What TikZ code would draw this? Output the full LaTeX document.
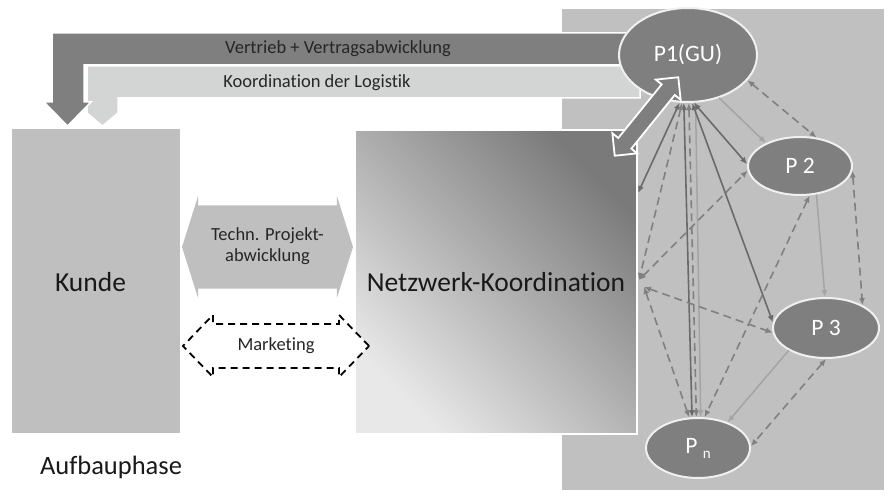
\documentclass[tikz,border=0pt]{standalone}
\usepackage{fontspec}
\setmainfont{Carlito}[Ligatures=NoCommon]
\usetikzlibrary{shapes.geometric,shapes.arrows,arrows.meta}
\definecolor{bandDark}{HTML}{7F7F7F}
\definecolor{bandLight}{HTML}{D3D5D5}
\definecolor{panelGrey}{HTML}{C0C0C0}
\definecolor{boxGrey}{HTML}{BFBFBF}
\definecolor{partnerGrey}{HTML}{7F7F7F}
\definecolor{nkDark}{HTML}{7A7A7A}
\definecolor{nkLight}{HTML}{E8E8E8}
\definecolor{lnDark}{HTML}{6A6A6A}
\definecolor{lnLight}{HTML}{A4A4A4}
\definecolor{lnDash}{HTML}{808080}
\definecolor{textGrey}{HTML}{262626}
\tikzset{
  partner/.style={shape=ellipse,draw=white!94!black,line width=2pt,fill=partnerGrey,
    text=white,inner sep=0pt,font=\fontsize{23.5}{26}\selectfont},
  darklink/.style={draw=lnDark,line width=1.6pt,{Latex[length=7pt,width=6pt]}-{Latex[length=7pt,width=6pt]}},
  lightlink/.style={draw=lnLight,line width=1.5pt,-{Latex[length=7pt,width=6pt]}},
  dashlink/.style={draw=lnDash,line width=1.6pt,dash pattern=on 8pt off 5pt,
    {Latex[length=7pt,width=6pt]}-{Latex[length=7pt,width=6pt]}},
  band/.style={draw=white,line width=1.5pt},
  bigtext/.style={font=\fontsize{27.5}{32}\selectfont,text=black!90},
  smalltext/.style={font=\fontsize{18.5}{21}\selectfont,text=textGrey}
}

\begin{document}
\begin{tikzpicture}[x=1pt,y=-1pt]
    \useasboundingbox (0,0) rectangle (890,497);

    \fill[panelGrey] (562,9) rectangle (884,490);

    \filldraw[band,fill=bandLight] (640,66) -- (87,66) -- (87,113) -- (102.5,126) -- (118,113) -- (118,98) -- (640,98) -- cycle;
    \filldraw[band,fill=bandDark] (640,33) -- (52,33) -- (52,102) -- (44,102) -- (67.5,126) -- (91,102) -- (84,102) -- (84,65) -- (640,65) -- cycle;
    \node[smalltext] (vertrieb) at (338,49) {Vertrieb + Vertragsabwicklung};
    \node[smalltext] (logistik) at (317,83) {Koordination der Logistik};

    \node[shape=rectangle,fill=boxGrey,minimum width=168pt,minimum height=304pt] (K) at (96,281) {};
    \node[bigtext] (kundetext) at (90.5,282) {Kunde};
    \node[shape=rectangle,draw=white,line width=2.5pt,top color=nkDark,bottom color=nkLight,shading angle=-45,
      minimum width=282pt,minimum height=304pt,bigtext] (NK) at (496,282) {Netzwerk-Koordination};
    \node[font=\fontsize{26.5}{30}\selectfont,text=black!90] (phase) at (111,467) {Aufbauphase};

    \node[shape=double arrow,fill=boxGrey,minimum height=171pt,minimum width=103pt,inner xsep=0pt,inner ysep=30pt,
      double arrow tip angle=145] (techn) at (267.5,247) {};
    \node[smalltext,align=center] (techntext) at (267.5,246) {Techn. Projekt-\\abwicklung};
    \node[shape=double arrow,fill=white,draw=black,line width=1.8pt,dash pattern=on 7pt off 5pt,
      minimum height=186pt,minimum width=62pt,inner xsep=0pt,inner ysep=16.5pt,
      double arrow tip angle=92] (mkt) at (276,346) {};
    \node[smalltext] (mkttext) at (276,346) {Marketing};

    \node[partner,minimum width=138pt,minimum height=94pt] (P1) at (688,55) {P1(GU)};
    \node[partner,minimum width=104pt,minimum height=58pt] (P2) at (800,166) {P 2};
    \node[partner,minimum width=106pt,minimum height=60pt] (P3) at (826,328) {P 3};
    \node[partner,minimum width=104pt,minimum height=60pt] (Pn) at (698,448) {P~\raisebox{-5pt}{\fontsize{15}{16}\selectfont n}};

    \coordinate (nkA) at (638,193);
    \coordinate (nkB) at (639,280);
    \coordinate (nkC) at (644,287);

    \draw[darklink] (P1.260) -- (nkA);
    \draw[darklink] (P1.265) -- (Pn.101);
    \draw[dashlink] (P1.271) -- (Pn.93);
    \draw[lightlink] (P1.279) -- (Pn.85);
    \draw[darklink] (P1.275) -- (P3.174);
    \draw[darklink] (P1.277) -- (P2.178);
    \draw[lightlink] (P1.306) -- (P2.146);
    \draw[dashlink] (P1.337) -- (P2.60);
    \draw[dashlink] (P2.355) -- (P3.32);
    \draw[lightlink] (P2.300) -- (P3.92);
    \draw[dashlink] (P2.288) -- (Pn.78);
    \draw[dashlink] (nkB) -- (P2.185);
    \draw[dashlink] (P1.263) -- (nkB);
    \draw[dashlink] (nkC) -- (P3.185);
    \draw[dashlink] (nkC) -- (Pn.106);
    \draw[lightlink] (P3.211) -- (Pn.41);
    \draw[dashlink] (P3.270) -- (Pn.2);

    \node[shape=double arrow,fill=bandDark,draw=white,line width=1.8pt,minimum height=101pt,minimum width=32pt,
      inner sep=7pt,double arrow tip angle=90,rotate=51] (link) at (646.5,116.5) {};
\end{tikzpicture}
\end{document}
